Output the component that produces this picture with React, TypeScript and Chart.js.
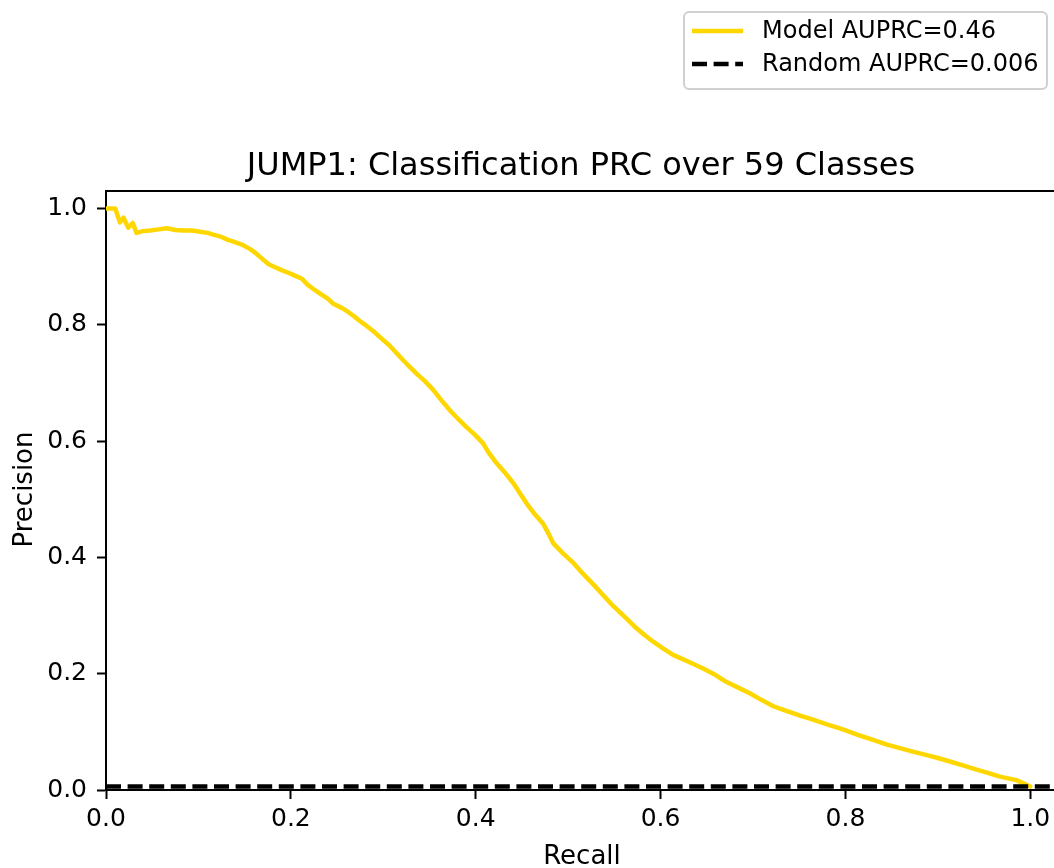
import React, { useEffect, useRef } from "react";
import { Chart, registerables } from "chart.js";

Chart.register(...registerables);

// Precision-recall curve of the classifier (recall on x, precision on y)
const recall = [
  0.0, 0.01, 0.015, 0.019, 0.024, 0.029, 0.033, 0.04, 0.048, 0.057, 0.066, 0.075,
  0.084, 0.093, 0.102, 0.11, 0.116, 0.125, 0.132, 0.138, 0.147, 0.156, 0.163, 0.17,
  0.176, 0.183, 0.19, 0.198, 0.205, 0.212, 0.218, 0.224, 0.232, 0.24, 0.246, 0.255,
  0.262, 0.268, 0.275, 0.282, 0.29, 0.297, 0.307, 0.318, 0.327, 0.336, 0.345, 0.354,
  0.363, 0.372, 0.381, 0.39, 0.399, 0.408, 0.414, 0.421, 0.431, 0.441, 0.448, 0.455,
  0.464, 0.473, 0.479, 0.484, 0.495, 0.506, 0.516, 0.527, 0.538, 0.549, 0.561, 0.574,
  0.583, 0.592, 0.603, 0.614, 0.624, 0.635, 0.646, 0.657, 0.664, 0.671, 0.684, 0.697,
  0.709, 0.722, 0.736, 0.751, 0.765, 0.78, 0.794, 0.801, 0.815, 0.83, 0.845, 0.859,
  0.873, 0.888, 0.9, 0.913, 0.928, 0.942, 0.955, 0.967, 0.985, 1.0,
];
const precision = [
  1.0, 1.0, 0.976, 0.984, 0.967, 0.975, 0.958, 0.961, 0.962, 0.964, 0.966, 0.963,
  0.962, 0.962, 0.96, 0.958, 0.955, 0.951, 0.946, 0.943, 0.938, 0.93, 0.922, 0.912,
  0.904, 0.899, 0.894, 0.889, 0.884, 0.879, 0.869, 0.862, 0.853, 0.845, 0.836, 0.829,
  0.822, 0.815, 0.806, 0.798, 0.788, 0.778, 0.764, 0.745, 0.73, 0.716, 0.703, 0.688,
  0.67, 0.653, 0.638, 0.624, 0.611, 0.596, 0.58, 0.565, 0.547, 0.527, 0.51, 0.493,
  0.474, 0.458, 0.44, 0.424, 0.406, 0.39, 0.372, 0.354, 0.335, 0.316, 0.298, 0.278,
  0.266, 0.255, 0.243, 0.232, 0.225, 0.217, 0.209, 0.2, 0.193, 0.186, 0.176, 0.166,
  0.155, 0.144, 0.136, 0.128, 0.121, 0.113, 0.106, 0.102, 0.094, 0.086, 0.078, 0.072,
  0.066, 0.06, 0.055, 0.049, 0.042, 0.035, 0.029, 0.023, 0.017, 0.006,
];

// Chance-level precision (positive rate)
const randomPrecision = 0.006;

const modelLabel = "Model AUPRC=0.46";
const randomLabel = "Random AUPRC=0.006";
const titleText = "JUMP1: Classification PRC over 59 Classes";
const xTitle = "Recall";
const yTitle = "Precision";

const X_MIN = 0;
const X_MAX = 1.03;
const Y_MIN = 0;
const Y_MAX = 1.03;
const TICK_STEP = 0.2;

const GOLD = "#FFD700";
const FONT = "'DejaVu Sans', 'Liberation Sans', sans-serif";
const DASH = [15, 6.6];
const LINE_W = 4.5;

const CANVAS_W = 1070;
const CANVAS_H = 868;

// Draws title, spines, axis titles and the legend box
const decorations = {
  id: "decorations",
  afterDraw(chart: any) {
    const { ctx, chartArea } = chart;
    const { left, right, top, bottom } = chartArea;
    ctx.save();

    // top and right spines
    ctx.strokeStyle = "#000";
    ctx.lineWidth = 2;
    ctx.beginPath();
    ctx.moveTo(left - 1, top);
    ctx.lineTo(right + 1, top);
    ctx.moveTo(right, top);
    ctx.lineTo(right, bottom);
    ctx.stroke();

    ctx.fillStyle = "#000";
    const cx = (left + right) / 2;

    // title
    ctx.font = `32px ${FONT}`;
    ctx.textAlign = "center";
    ctx.textBaseline = "alphabetic";
    ctx.fillText(titleText, cx - 1, 175);

    // axis titles
    ctx.font = `26px ${FONT}`;
    ctx.fillText(xTitle, cx, 864);
    ctx.save();
    ctx.translate(32, (top + bottom) / 2 - 1);
    ctx.rotate(-Math.PI / 2);
    ctx.fillText(yTitle, 0, 0);
    ctx.restore();

    // legend
    const lx = 684, ly = 12, lw = 363, lh = 77, r = 5;
    ctx.beginPath();
    ctx.moveTo(lx + r, ly);
    ctx.lineTo(lx + lw - r, ly);
    ctx.arcTo(lx + lw, ly, lx + lw, ly + r, r);
    ctx.lineTo(lx + lw, ly + lh - r);
    ctx.arcTo(lx + lw, ly + lh, lx + lw - r, ly + lh, r);
    ctx.lineTo(lx + r, ly + lh);
    ctx.arcTo(lx, ly + lh, lx, ly + lh - r, r);
    ctx.lineTo(lx, ly + r);
    ctx.arcTo(lx, ly, lx + r, ly, r);
    ctx.closePath();
    ctx.fillStyle = "rgba(255,255,255,0.8)";
    ctx.fill();
    ctx.strokeStyle = "#d0d0d0";
    ctx.lineWidth = 2;
    ctx.stroke();

    const rows = [
      { label: modelLabel, color: GOLD, dash: [] as number[], y: 31 },
      { label: randomLabel, color: "#000", dash: DASH, y: 64 },
    ];
    ctx.textAlign = "left";
    ctx.textBaseline = "middle";
    ctx.font = `24px ${FONT}`;
    for (const row of rows) {
      ctx.strokeStyle = row.color;
      ctx.lineWidth = LINE_W;
      ctx.setLineDash(row.dash);
      ctx.beginPath();
      ctx.moveTo(692, row.y);
      ctx.lineTo(743, row.y);
      ctx.stroke();
      ctx.setLineDash([]);
      ctx.fillStyle = "#000";
      ctx.fillText(row.label, 762, row.y + 1);
    }

    ctx.restore();
  },
};

export default function App() {
  const canvasRef = useRef<HTMLCanvasElement | null>(null);

  useEffect(() => {
    const canvas = canvasRef.current;
    if (!canvas) return;

    const modelPoints = recall.map((r, i) => ({ x: r, y: precision[i] }));
    const randomPoints = [
      { x: X_MIN, y: randomPrecision },
      { x: X_MAX, y: randomPrecision },
    ];

    const tickFont = { family: FONT, size: 25 };
    const fmt = (v: any) => Number(v).toFixed(1);

    const chart = new Chart(canvas, {
      type: "line",
      data: {
        datasets: [
          {
            label: randomLabel,
            data: randomPoints,
            borderColor: "#000",
            borderWidth: LINE_W,
            borderDash: DASH,
            pointRadius: 0,
            fill: false,
            tension: 0,
          },
          {
            label: modelLabel,
            data: modelPoints,
            borderColor: GOLD,
            borderWidth: LINE_W,
            pointRadius: 0,
            fill: false,
            tension: 0,
            borderJoinStyle: "round",
            borderCapStyle: "round",
          },
        ],
      },
      options: {
        responsive: false,
        maintainAspectRatio: false,
        animation: false,
        events: [],
        layout: { padding: { top: 191, right: CANVAS_W - 1058, bottom: 0, left: 0 } },
        plugins: {
          legend: { display: false },
          title: { display: false },
          tooltip: { enabled: false },
        },
        scales: {
          x: {
            type: "linear",
            min: X_MIN,
            max: X_MAX,
            afterFit: (s: any) => {
              s.height = CANVAS_H - 790;
            },
            ticks: {
              stepSize: TICK_STEP,
              includeBounds: false,
              autoSkip: false,
              maxRotation: 0,
              padding: 5,
              color: "#000",
              font: tickFont,
              callback: fmt,
            },
            grid: {
              drawOnChartArea: false,
              drawTicks: true,
              tickLength: 9,
              tickWidth: 2,
              tickColor: "#000",
            },
            border: { display: true, color: "#000", width: 2 },
          },
          y: {
            type: "linear",
            min: Y_MIN,
            max: Y_MAX,
            afterFit: (s: any) => {
              s.width = 106;
            },
            ticks: {
              stepSize: TICK_STEP,
              includeBounds: false,
              autoSkip: false,
              padding: 10,
              color: "#000",
              font: tickFont,
              callback: fmt,
            },
            grid: {
              drawOnChartArea: false,
              drawTicks: true,
              tickLength: 9,
              tickWidth: 2,
              tickColor: "#000",
            },
            border: { display: true, color: "#000", width: 2 },
          },
        },
      },
      plugins: [decorations],
    } as any);

    return () => chart.destroy();
  }, []);

  return (
    <div
      style={{
        position: "absolute",
        left: 0,
        top: 0,
        width: 1054,
        height: 868,
        overflow: "hidden",
        background: "#fff",
      }}
    >
      <canvas
        ref={canvasRef}
        width={CANVAS_W}
        height={CANVAS_H}
        style={{ display: "block", width: CANVAS_W, height: CANVAS_H }}
      />
    </div>
  );
}
